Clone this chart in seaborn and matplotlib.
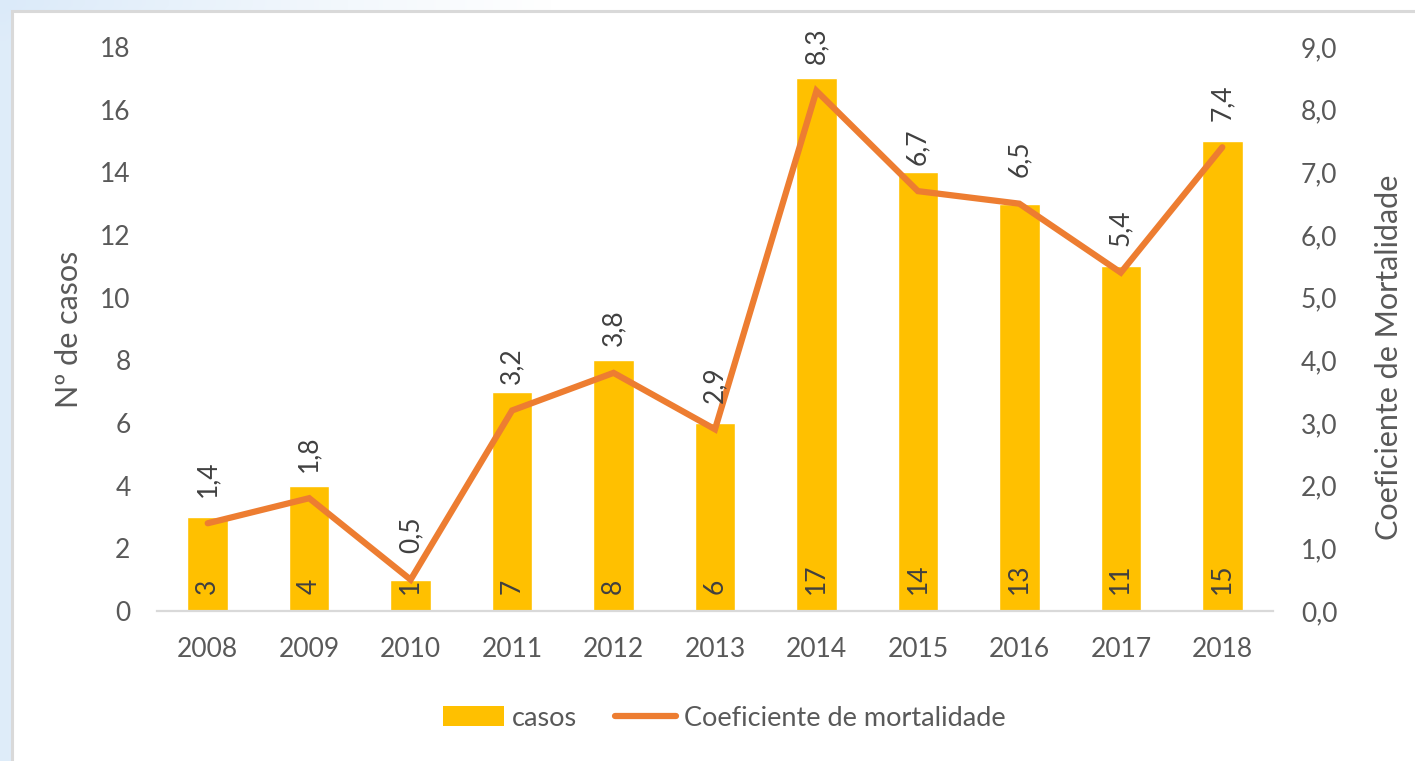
import numpy as np
import pandas as pd
import matplotlib
matplotlib.use("Agg")
import matplotlib.pyplot as plt
from matplotlib.patches import Rectangle, Patch
from matplotlib.lines import Line2D
from matplotlib.ticker import FuncFormatter
import seaborn as sns

# Data
anos = ["2008", "2009", "2010", "2011", "2012", "2013", "2014", "2015", "2016", "2017", "2018"]
casos = [3, 4, 1, 7, 8, 6, 17, 14, 13, 11, 15]
coeficiente = [1.4, 1.8, 0.5, 3.2, 3.8, 2.9, 8.3, 6.7, 6.5, 5.4, 7.4]

BAR = "#FFC000"
LINE = "#ED7D31"
TXT = "#595959"
LBL = "#404040"
GRID = "#D9D9D9"

sns.set_theme(style="white")
plt.rcParams["font.family"] = ["Lato", "DejaVu Sans"]

df = pd.DataFrame({"ano": anos, "casos": casos, "coef": coeficiente})
df["pos"] = np.arange(len(df))

fig = plt.figure(figsize=(14.15, 7.61), dpi=100)

# soft blue backdrop behind the chart frame
bg = fig.add_axes([0, 0, 1, 1], zorder=-10)
bg.set_axis_off()
h, w = 76, 142
yy, xx = np.mgrid[0:h, 0:w]
alpha = np.clip(1.0 - xx / 55.0, 0, 1) * 0.9
alpha = np.maximum(alpha, np.clip(1.0 - yy / 40.0, 0, 1) * np.clip(1.0 - xx / 50.0, 0, 1))
img = np.zeros((h, w, 4))
img[..., 0] = 0.86
img[..., 1] = 0.92
img[..., 2] = 0.98
img[..., 3] = alpha
bg.imshow(img, extent=[0, 1, 0, 1], aspect="auto", interpolation="bilinear")
bg.set_xlim(0, 1)
bg.set_ylim(0, 1)
frame = Rectangle((11.5 / 1415, -0.1), 1.2, 1.1 - 10.5 / 761,
                  transform=fig.transFigure, facecolor="white",
                  edgecolor=GRID, linewidth=2.2, zorder=-5)
fig.patches.append(frame)

ax = fig.add_axes([157 / 1415, 150 / 761, 1116 / 1415, 564 / 761])
ax.patch.set_alpha(0)
sns.barplot(data=df, x="ano", y="casos", color=BAR, width=0.4,
            saturation=1, ax=ax, zorder=2)
ax.set_ylim(0, 18)
ax.set_yticks(np.arange(0, 19, 2))
ax.set_xlim(-0.5, len(anos) - 0.5)

for i, v in enumerate(casos):
    ax.annotate(str(v), (i, 0), xytext=(0, 12), textcoords="offset points",
                rotation=90, ha="center", va="bottom", fontsize=19,
                color=LBL, zorder=5)

ax2 = ax.twinx()
sns.lineplot(data=df, x="pos", y="coef", color=LINE, linewidth=4.5,
             ax=ax2, zorder=3)
for ln in ax2.lines:
    ln.set_solid_capstyle("round")
    ln.set_solid_joinstyle("miter")
ax2.set_ylim(0, 9)
ax2.set_yticks(np.arange(0, 10, 1))
ax2.yaxis.set_major_formatter(FuncFormatter(lambda v, p: f"{v:.1f}".replace(".", ",")))
ax2.set_xlim(-0.5, len(anos) - 0.5)

for i, v in enumerate(coeficiente):
    ax2.annotate(f"{v:.1f}".replace(".", ","), (i, v), xytext=(0, 19),
                 textcoords="offset points", rotation=90, ha="center",
                 va="bottom", fontsize=19, color=LBL, zorder=5)

for a in (ax, ax2):
    for s in ("top", "left", "right", "bottom"):
        a.spines[s].set_visible(False)
    a.tick_params(length=0, labelsize=19, colors=TXT)
    a.grid(False)

ax.spines["bottom"].set_visible(True)
ax.spines["bottom"].set_color(GRID)
ax.spines["bottom"].set_linewidth(1.6)
ax.tick_params(axis="x", pad=19)
ax.tick_params(axis="y", pad=19)
ax2.tick_params(axis="y", pad=20)

ax.set_xlabel("")
ax.set_ylabel("Nº de casos", fontsize=22, color=TXT)
ax.yaxis.set_label_coords(-0.066, 0.5)
ax2.set_xlabel("")
ax2.set_ylabel("Coeficiente de Mortalidade", fontsize=22, color=TXT)
ax2.yaxis.set_label_coords(1.0914, 0.45)

handles = [Patch(facecolor=BAR, edgecolor="none"),
           Line2D([0], [0], color=LINE, linewidth=4.5, solid_capstyle="round")]
fig.legend(handles, ["casos", "Coeficiente de mortalidade"],
           loc="center", bbox_to_anchor=(724 / 1415, 1 - 718 / 761), ncol=2,
           frameon=False, fontsize=19.5, handlelength=2.25, handleheight=0.75,
           handletextpad=0.3, columnspacing=1.4, labelcolor=TXT)

fig.savefig("out.png", dpi=100)
